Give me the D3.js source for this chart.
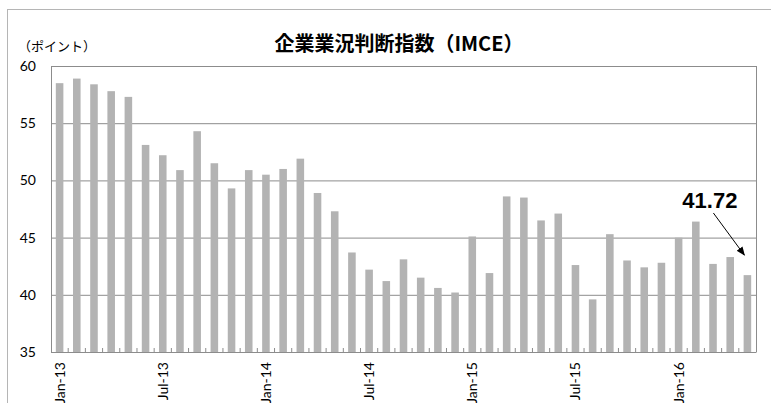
<!DOCTYPE html>
<html>
<head>
<meta charset="utf-8">
<script src="https://cdn.jsdelivr.net/npm/d3@7"></script>
<style>
  body { margin: 0; background: #fff; }
  .grid line { stroke: #8c8c8c; stroke-width: 1; }
  .grid path { stroke: none; }
  .y.axis text { font-family: "Lato", "Noto Sans", sans-serif; font-size: 14px; fill: #000; }
  .x.axis text { font-family: "Lato", "Noto Sans", sans-serif; font-size: 14px; fill: #000; }
  .bar { fill: #b3b3b3; }
</style>
</head>
<body>
<div id="chart"></div>
<script>
// months Jan-13 .. May-16
var months = ["Jan-13","Feb-13","Mar-13","Apr-13","May-13","Jun-13","Jul-13","Aug-13","Sep-13","Oct-13","Nov-13","Dec-13",
  "Jan-14","Feb-14","Mar-14","Apr-14","May-14","Jun-14","Jul-14","Aug-14","Sep-14","Oct-14","Nov-14","Dec-14",
  "Jan-15","Feb-15","Mar-15","Apr-15","May-15","Jun-15","Jul-15","Aug-15","Sep-15","Oct-15","Nov-15","Dec-15",
  "Jan-16","Feb-16","Mar-16","Apr-16","May-16"];
var imce = [58.5, 58.9, 58.4, 57.8, 57.3, 53.1, 52.2, 50.9, 54.3, 51.5, 49.3, 50.9,
  50.5, 51.0, 51.9, 48.9, 47.3, 43.7, 42.2, 41.2, 43.1, 41.5, 40.6, 40.2,
  45.1, 41.9, 48.6, 48.5, 46.5, 47.1, 42.6, 39.6, 45.3, 43.0, 42.4, 42.8,
  45.0, 46.4, 42.7, 43.3, 41.72];
var shownLabels = ["Jan-13","Jul-13","Jan-14","Jul-14","Jan-15","Jul-15","Jan-16"];
var yTicks = [35, 40, 45, 50, 55, 60];
var title = "企業業況判断指数（IMCE）";
var unitLabel = "（ポイント）";
var lastLabel = "41.72";

var W = 771, H = 403;
var margin = {top: 66, right: 15, bottom: 51, left: 51},
  width = W - margin.left - margin.right,
  height = H - margin.top - margin.bottom;

var root = d3.select("#chart").append("svg")
  .attr("width", W)
  .attr("height", H);

// outer chart border (cut off at right/bottom)
root.append("rect")
  .attr("x", 7.5).attr("y", 9.5)
  .attr("width", 900).attr("height", 600)
  .attr("fill", "none")
  .attr("stroke", "#b5b5b5");

var svg = root.append("g")
  .attr("transform", "translate(" + margin.left + "," + margin.top + ")");

var xScale = d3.scaleBand()
  .domain(months)
  .range([0, width])
  .paddingInner(0.56)
  .paddingOuter(0.28);

var yScale = d3.scaleLinear()
  .domain([35, 60])
  .range([height, 0]);

// gridlines
svg.append("g")
  .attr("class", "grid")
  .call(d3.axisLeft(yScale).tickValues(yTicks).tickSize(-width).tickFormat(""));

// bars
svg.selectAll(".bar")
  .data(imce)
  .enter().append("rect")
  .attr("class", "bar")
  .attr("x", function(d, i) { return xScale(months[i]); })
  .attr("width", xScale.bandwidth())
  .attr("y", function(d) { return yScale(d); })
  .attr("height", function(d) { return height - yScale(d); });

// right border of plot area
svg.append("line")
  .attr("x1", width + 0.5).attr("x2", width + 0.5)
  .attr("y1", 0).attr("y2", height)
  .attr("stroke", "#8c8c8c");

// y axis
var yAxis = svg.append("g")
  .attr("class", "y axis")
  .call(d3.axisLeft(yScale).tickValues(yTicks).tickSize(0).tickPadding(15));
yAxis.select(".domain").attr("stroke", "#8c8c8c");

// x axis: small inward ticks at category boundaries
var boundaries = d3.range(1, months.length).map(function(i) { return i * width / months.length; });
svg.append("g")
  .selectAll("line")
  .data(boundaries)
  .enter().append("line")
  .attr("x1", function(d) { return d; })
  .attr("x2", function(d) { return d; })
  .attr("y1", height)
  .attr("y2", height - 4)
  .attr("stroke", "#8c8c8c");

var xAxis = svg.append("g")
  .attr("class", "x axis")
  .attr("transform", "translate(0," + height + ")")
  .call(d3.axisBottom(xScale).tickValues(shownLabels).tickSize(0));
xAxis.select(".domain").attr("stroke", "#8c8c8c");
xAxis.selectAll("text")
  .attr("transform", "rotate(-90)")
  .attr("text-anchor", "end")
  .attr("x", -10)
  .attr("y", 0)
  .attr("dy", "0.35em");

// title
root.append("text")
  .attr("x", 399)
  .attr("y", 51)
  .attr("text-anchor", "middle")
  .style("font-family", "'Noto Sans CJK JP', sans-serif")
  .style("font-weight", "bold")
  .style("font-size", "20px")
  .text(title);

// unit label
root.append("text")
  .attr("x", 18)
  .attr("y", 51)
  .style("font-family", "'Noto Sans CJK JP', sans-serif")
  .style("font-size", "13px")
  .text(unitLabel);

// annotation of last value
var last = imce.length - 1;
var lx = xScale(months[last]) + xScale.bandwidth() / 2;
var ly = yScale(imce[last]);
svg.append("text")
  .attr("x", lx - 10)
  .attr("y", 208 - margin.top)
  .attr("text-anchor", "end")
  .style("font-family", "'Liberation Sans', Arial, sans-serif")
  .style("font-weight", "bold")
  .style("font-size", "22px")
  .text(lastLabel);

root.append("defs").append("marker")
  .attr("id", "arrow")
  .attr("viewBox", "0 0 10 10")
  .attr("refX", 9).attr("refY", 5)
  .attr("markerWidth", 9).attr("markerHeight", 9)
  .attr("orient", "auto")
  .append("path")
  .attr("d", "M0,1 L10,5 L0,9 Z")
  .attr("fill", "#000");

svg.append("line")
  .attr("x1", lx - 34).attr("y1", 213 - margin.top)
  .attr("x2", lx - 3).attr("y2", ly - 20)
  .attr("stroke", "#000")
  .attr("stroke-width", 1)
  .attr("marker-end", "url(#arrow)");
</script>
</body>
</html>
